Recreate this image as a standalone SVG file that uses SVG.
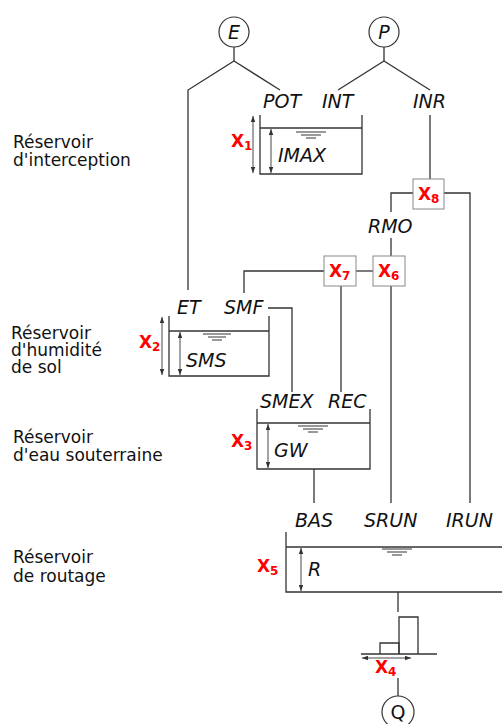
<svg xmlns="http://www.w3.org/2000/svg" width="502" height="724" viewBox="0 0 502 724">
<style>
.ln{stroke:#333;stroke-width:1.3;fill:none}
.bx{stroke:#888;stroke-width:1;fill:#fff}
.wl{stroke:#555;stroke-width:1.2}
.ar{stroke:#333;stroke-width:0.9;marker-start:url(#ah);marker-end:url(#ah)}
.lb{font-family:"DejaVu Sans",sans-serif;font-size:17px;fill:#111}
.v{font-family:"DejaVu Sans",sans-serif;font-style:italic;font-size:19px;fill:#111}
.x{font-family:"DejaVu Sans",sans-serif;font-weight:bold;font-size:17px;fill:#f00}
.s{font-size:12px}
</style>
<defs>
<marker id="ah" viewBox="0 0 8 6" refX="8" refY="3" markerWidth="6" markerHeight="5" orient="auto-start-reverse" markerUnits="userSpaceOnUse">
<path d="M0,0 L8,3 L0,6 z" fill="#333"/>
</marker>
</defs>
<g id="connectors">
<line class="ln" x1="234" y1="47" x2="234" y2="61"/>
<polyline class="ln" points="188,290 188,90 234,61 280,90"/>
<line class="ln" x1="384" y1="47" x2="384" y2="61"/>
<polyline class="ln" points="338,90 384,61 430,90"/>
<line class="ln" x1="430" y1="115" x2="430" y2="179"/>
<polyline class="ln" points="413,193 391,193 391,212"/>
<polyline class="ln" points="444,193 470,193 470,503"/>
<line class="ln" x1="391" y1="238" x2="391" y2="256"/>
<line class="ln" x1="356" y1="271" x2="373" y2="271"/>
<polyline class="ln" points="324,271 244,271 244,293"/>
<polyline class="ln" points="268,308 292,308 292,392"/>
<line class="ln" x1="341" y1="286" x2="341" y2="392"/>
<line class="ln" x1="391" y1="286" x2="391" y2="503"/>
<line class="ln" x1="314" y1="469" x2="314" y2="503"/>
<line class="ln" x1="398" y1="592" x2="398" y2="612"/>
<line class="ln" x1="398" y1="678" x2="398" y2="696"/>
</g>
<g id="E">
<circle cx="234" cy="32" r="15" fill="#fff" stroke="#333" stroke-width="1.2"/>
<text class="v" x="234" y="39" text-anchor="middle">E</text>
</g>
<g id="P">
<circle cx="384" cy="32" r="15" fill="#fff" stroke="#333" stroke-width="1.2"/>
<text class="v" x="384" y="39" text-anchor="middle">P</text>
</g>
<g id="labels-top">
<text class="v" x="263" y="108">POT</text>
<text class="v" x="322" y="108">INT</text>
<text class="v" x="413" y="108">INR</text>
<text class="v" x="368" y="233">RMO</text>
</g>
<g id="interception">
<polyline class="ln" points="260,115 260,174 362,174 362,115"/>
<line class="ln" x1="260" y1="128" x2="362" y2="128"/>
<line class="wl" x1="296" y1="132" x2="326" y2="132"/>
<line class="wl" x1="301" y1="135" x2="321" y2="135"/>
<line class="wl" x1="306" y1="138" x2="316" y2="138"/>
<line class="ar" x1="253" y1="116" x2="253" y2="173"/>
<line class="ar" x1="271" y1="129" x2="271" y2="173"/>
<text class="v" x="278" y="162">IMAX</text>
<text class="x" x="231" y="147">X<tspan class="s" dy="3">1</tspan></text>
</g>
<g id="X8">
<rect class="bx" x="413" y="179" width="31" height="30"/>
<text class="x" x="418" y="200">X<tspan class="s" dy="3">8</tspan></text>
</g>
<g id="X7">
<rect class="bx" x="324" y="256" width="32" height="30"/>
<text class="x" x="329" y="277">X<tspan class="s" dy="3">7</tspan></text>
</g>
<g id="X6">
<rect class="bx" x="373" y="256" width="32" height="30"/>
<text class="x" x="378" y="277">X<tspan class="s" dy="3">6</tspan></text>
</g>
<g id="soil">
<text class="v" x="177" y="314">ET</text>
<text class="v" x="224" y="314">SMF</text>
<polyline class="ln" points="169,316 169,376 269,376 269,316"/>
<line class="ln" x1="169" y1="331" x2="269" y2="331"/>
<line class="wl" x1="203" y1="334" x2="231" y2="334"/>
<line class="wl" x1="208" y1="337" x2="226" y2="337"/>
<line class="wl" x1="212" y1="340" x2="222" y2="340"/>
<line class="ar" x1="162" y1="317" x2="162" y2="375"/>
<line class="ar" x1="180" y1="332" x2="180" y2="375"/>
<text class="v" x="186" y="367">SMS</text>
<text class="x" x="139" y="348">X<tspan class="s" dy="3">2</tspan></text>
</g>
<g id="groundwater">
<text class="v" x="260" y="408">SMEX</text>
<text class="v" x="328" y="408">REC</text>
<polyline class="ln" points="257,409 257,469 370,469 370,409"/>
<line class="ln" x1="257" y1="423" x2="370" y2="423"/>
<line class="wl" x1="298" y1="426" x2="328" y2="426"/>
<line class="wl" x1="303" y1="429" x2="323" y2="429"/>
<line class="wl" x1="308" y1="432" x2="318" y2="432"/>
<line class="ar" x1="268" y1="424" x2="268" y2="468"/>
<text class="v" x="274" y="457">GW</text>
<text class="x" x="231" y="447">X<tspan class="s" dy="3">3</tspan></text>
</g>
<g id="routing">
<text class="v" x="295" y="527">BAS</text>
<text class="v" x="364" y="527">SRUN</text>
<text class="v" x="446" y="527">IRUN</text>
<polyline class="ln" points="286,532 286,592 502,592"/>
<line class="ln" x1="286" y1="547" x2="502" y2="547"/>
<line class="wl" x1="382" y1="549" x2="412" y2="549"/>
<line class="wl" x1="387" y1="552" x2="407" y2="552"/>
<line class="wl" x1="392" y1="555" x2="402" y2="555"/>
<line class="ar" x1="301" y1="548" x2="301" y2="591"/>
<text class="v" x="308" y="576">R</text>
<text class="x" x="257" y="572">X<tspan class="s" dy="3">5</tspan></text>
</g>
<g id="hydrograph">
<polyline class="ln" points="380,654 380,643 399,643 399,654"/>
<polyline class="ln" points="399,654 399,617 418,617 418,654"/>
<line class="ln" x1="361" y1="654" x2="437" y2="654"/>
<line class="ar" x1="362" y1="658" x2="411" y2="658"/>
<text class="x" x="375" y="673">X<tspan class="s" dy="3">4</tspan></text>
</g>
<g id="Q">
<circle cx="398" cy="712" r="16" fill="#fff" stroke="#333" stroke-width="1.2"/>
<text class="lb" x="398" y="719" text-anchor="middle" style="font-size:19px">Q</text>
</g>
<g id="side-labels">
<text class="lb" x="13" y="148">Réservoir</text>
<text class="lb" x="13" y="166">d'interception</text>
<text class="lb" x="11" y="339">Réservoir</text>
<text class="lb" x="11" y="356">d'humidité</text>
<text class="lb" x="11" y="373">de sol</text>
<text class="lb" x="13" y="443">Réservoir</text>
<text class="lb" x="13" y="461">d'eau souterraine</text>
<text class="lb" x="13" y="563">Réservoir</text>
<text class="lb" x="13" y="582">de routage</text>
</g>
</svg>
